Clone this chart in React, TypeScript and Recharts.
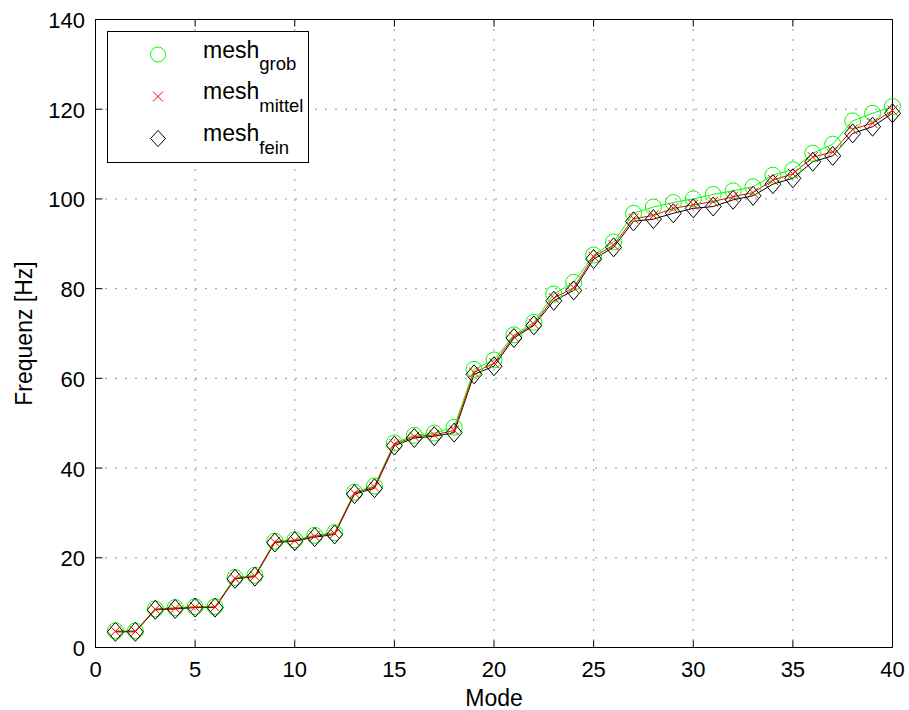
import React from 'react';
import { LineChart, Line, XAxis, YAxis, CartesianGrid } from 'recharts';

const modes = [
  1, 2, 3, 4, 5, 6, 7, 8, 9, 10, 11, 12, 13, 14, 15, 16, 17, 18, 19, 20,
  21, 22, 23, 24, 25, 26, 27, 28, 29, 30, 31, 32, 33, 34, 35, 36, 37, 38, 39, 40,
];
const grob = [
  3.7, 3.7, 8.6, 8.9, 9.1, 9.1, 15.6, 16.1, 23.7, 24.0, 25.0, 25.6, 34.6, 36.0, 45.6, 47.3, 47.8, 49.1, 62.0, 64.1,
  69.7, 72.5, 78.8, 81.4, 87.5, 90.4, 96.8, 98.2, 99.2, 100.0, 101.0, 101.8, 102.7, 105.3, 106.5, 110.2, 112.2, 117.4, 119.1, 120.6,
];
const mittel = [
  3.6, 3.6, 8.5, 8.75, 9.0, 9.0, 15.4, 15.9, 23.5, 23.8, 24.8, 25.4, 34.4, 35.8, 45.3, 47.0, 47.4, 48.4, 61.3, 63.4,
  69.3, 72.1, 77.9, 80.2, 87.1, 89.7, 95.6, 96.3, 97.9, 98.7, 99.4, 100.5, 101.4, 104.2, 105.6, 109.3, 110.5, 115.5, 116.9, 119.7,
];
const fein = [
  3.5, 3.5, 8.4, 8.6, 8.9, 8.9, 15.3, 15.8, 23.4, 23.7, 24.6, 25.2, 34.2, 35.5, 45.0, 46.7, 47.1, 47.9, 60.9, 62.7,
  69.0, 71.8, 77.3, 79.6, 86.6, 89.2, 95.0, 95.5, 96.8, 97.9, 98.3, 99.8, 100.7, 103.3, 104.6, 108.3, 109.6, 114.6, 116.1, 119.1,
];
const xTicks = [0, 5, 10, 15, 20, 25, 30, 35, 40];
const yTicks = [0, 20, 40, 60, 80, 100, 120, 140];
const legendItems = [
  { key: 'grob', sub: 'grob' },
  { key: 'mittel', sub: 'mittel' },
  { key: 'fein', sub: 'fein' },
];

const data = modes.map((m, i) => ({ mode: m, grob: grob[i], mittel: mittel[i], fein: fein[i] }));

const FONT = '"Liberation Sans", Arial, Helvetica, sans-serif';
const GREEN = '#00ff00';
const RED = '#ff0000';

const circleDot = (p: any) => (
  <circle key={`g-${p.index}`} cx={p.cx} cy={p.cy} r={8} fill="none" stroke={GREEN} strokeWidth={1} />
);
const crossDot = (p: any) => (
  <path
    key={`m-${p.index}`}
    d={`M${p.cx - 5},${p.cy - 5}L${p.cx + 5},${p.cy + 5}M${p.cx - 5},${p.cy + 5}L${p.cx + 5},${p.cy - 5}`}
    stroke={RED}
    strokeWidth={1}
    fill="none"
  />
);
const diamondDot = (p: any) => (
  <path
    key={`f-${p.index}`}
    d={`M${p.cx},${p.cy - 9.5}L${p.cx + 8},${p.cy}L${p.cx},${p.cy + 9.5}L${p.cx - 8},${p.cy}Z`}
    stroke="#000"
    strokeWidth={1}
    fill="none"
  />
);

const BottomTick = (props: any) => {
  const { x, y, payload } = props;
  return (
    <g>
      <line x1={x} x2={x} y1={y} y2={y - 7} stroke="#000" />
      <text x={x} y={y + 29.5} textAnchor="middle" fontSize={22} fontFamily={FONT} fill="#000">
        {payload.value}
      </text>
    </g>
  );
};
const TopTick = (props: any) => {
  const { x, y } = props;
  return <line x1={x} x2={x} y1={y} y2={y + 7} stroke="#000" />;
};
const LeftTick = (props: any) => {
  const { x, y, payload } = props;
  return (
    <g>
      <line x1={x} x2={x + 7} y1={y} y2={y} stroke="#000" />
      <text x={x - 10.5} y={y + 8.5} textAnchor="end" fontSize={22} fontFamily={FONT} fill="#000">
        {payload.value}
      </text>
    </g>
  );
};
const RightTick = (props: any) => {
  const { x, y } = props;
  return <line x1={x} x2={x - 7} y1={y} y2={y} stroke="#000" />;
};

const LegendBox = () => (
  <svg width={202} height={132} style={{ display: 'block' }}>
    <rect x={0.5} y={0.5} width={201} height={131} fill="#fff" stroke="#000" />
    {legendItems.map((it, i) => {
      const cy = 23.5 + i * 42;
      const base = 26.5 + i * 41.7;
      let icon;
      if (it.key === 'grob') icon = <circle cx={51} cy={cy} r={7.5} fill="none" stroke={GREEN} />;
      else if (it.key === 'mittel')
        icon = <path d={`M46,${cy - 5}L56,${cy + 5}M46,${cy + 5}L56,${cy - 5}`} stroke={RED} fill="none" />;
      else icon = <path d={`M51,${cy - 8}L58.5,${cy}L51,${cy + 8}L43.5,${cy}Z`} stroke="#000" fill="none" />;
      return (
        <g key={it.key}>
          {icon}
          <text x={96} y={base} fontFamily={FONT} fill="#000">
            <tspan fontSize={23}>mesh</tspan>
            <tspan fontSize={18.5} dy={12.7}>{it.sub}</tspan>
          </text>
        </g>
      );
    })}
  </svg>
);

const YLabel = (props: any) => {
  const { viewBox } = props;
  const cy = viewBox.y + viewBox.height / 2;
  return (
    <text
      x={32}
      y={cy}
      transform={`rotate(-90, 32, ${cy})`}
      textAnchor="middle"
      fontSize={23}
      fontFamily={FONT}
      fill="#000"
    >
      Frequenz [Hz]
    </text>
  );
};

const XLabel = (props: any) => {
  const { viewBox } = props;
  return (
    <text x={viewBox.x + viewBox.width / 2} y={706} textAnchor="middle" fontSize={23} fontFamily={FONT} fill="#000">
      Mode
    </text>
  );
};

export default function App() {
  return (
    <div style={{ position: 'absolute', left: 0, top: 0, width: 909, height: 710, background: '#fff' }}>
      <LineChart width={909} height={710} data={data} margin={{ top: 18.5, right: 15.5, bottom: 61.5, left: 94.5 }}>
        <CartesianGrid stroke="#000" strokeDasharray="1 9" strokeOpacity={0.85} />
        <XAxis
          dataKey="mode"
          type="number"
          domain={[0, 40]}
          ticks={xTicks}
          interval={0}
          height={1}
          tickSize={0}
          tickMargin={0}
          tickLine={false}
          axisLine={{ stroke: '#000' }}
          tick={<BottomTick />}
          label={<XLabel />}
        />
        <XAxis
          xAxisId="top"
          orientation="top"
          dataKey="mode"
          type="number"
          domain={[0, 40]}
          ticks={xTicks}
          interval={0}
          height={1}
          tickSize={0}
          tickMargin={0}
          tickLine={false}
          axisLine={{ stroke: '#000' }}
          tick={<TopTick />}
        />
        <YAxis
          type="number"
          domain={[0, 140]}
          ticks={yTicks}
          interval={0}
          width={1}
          tickSize={0}
          tickMargin={0}
          tickLine={false}
          axisLine={{ stroke: '#000' }}
          tick={<LeftTick />}
          label={<YLabel />}
        />
        <YAxis
          yAxisId="right"
          orientation="right"
          type="number"
          domain={[0, 140]}
          ticks={yTicks}
          interval={0}
          width={1}
          tickSize={0}
          tickMargin={0}
          tickLine={false}
          axisLine={{ stroke: '#000' }}
          tick={<RightTick />}
        />
        <Line type="linear" dataKey="grob" stroke={GREEN} strokeWidth={1} dot={circleDot} activeDot={false} isAnimationActive={false} />
        <Line type="linear" dataKey="fein" stroke="#000" strokeWidth={1} dot={diamondDot} activeDot={false} isAnimationActive={false} />
        <Line type="linear" dataKey="mittel" stroke={RED} strokeWidth={1} dot={crossDot} activeDot={false} isAnimationActive={false} />
      </LineChart>
      <div style={{ position: 'absolute', left: 107, top: 31 }}>
        <LegendBox />
      </div>
    </div>
  );
}
